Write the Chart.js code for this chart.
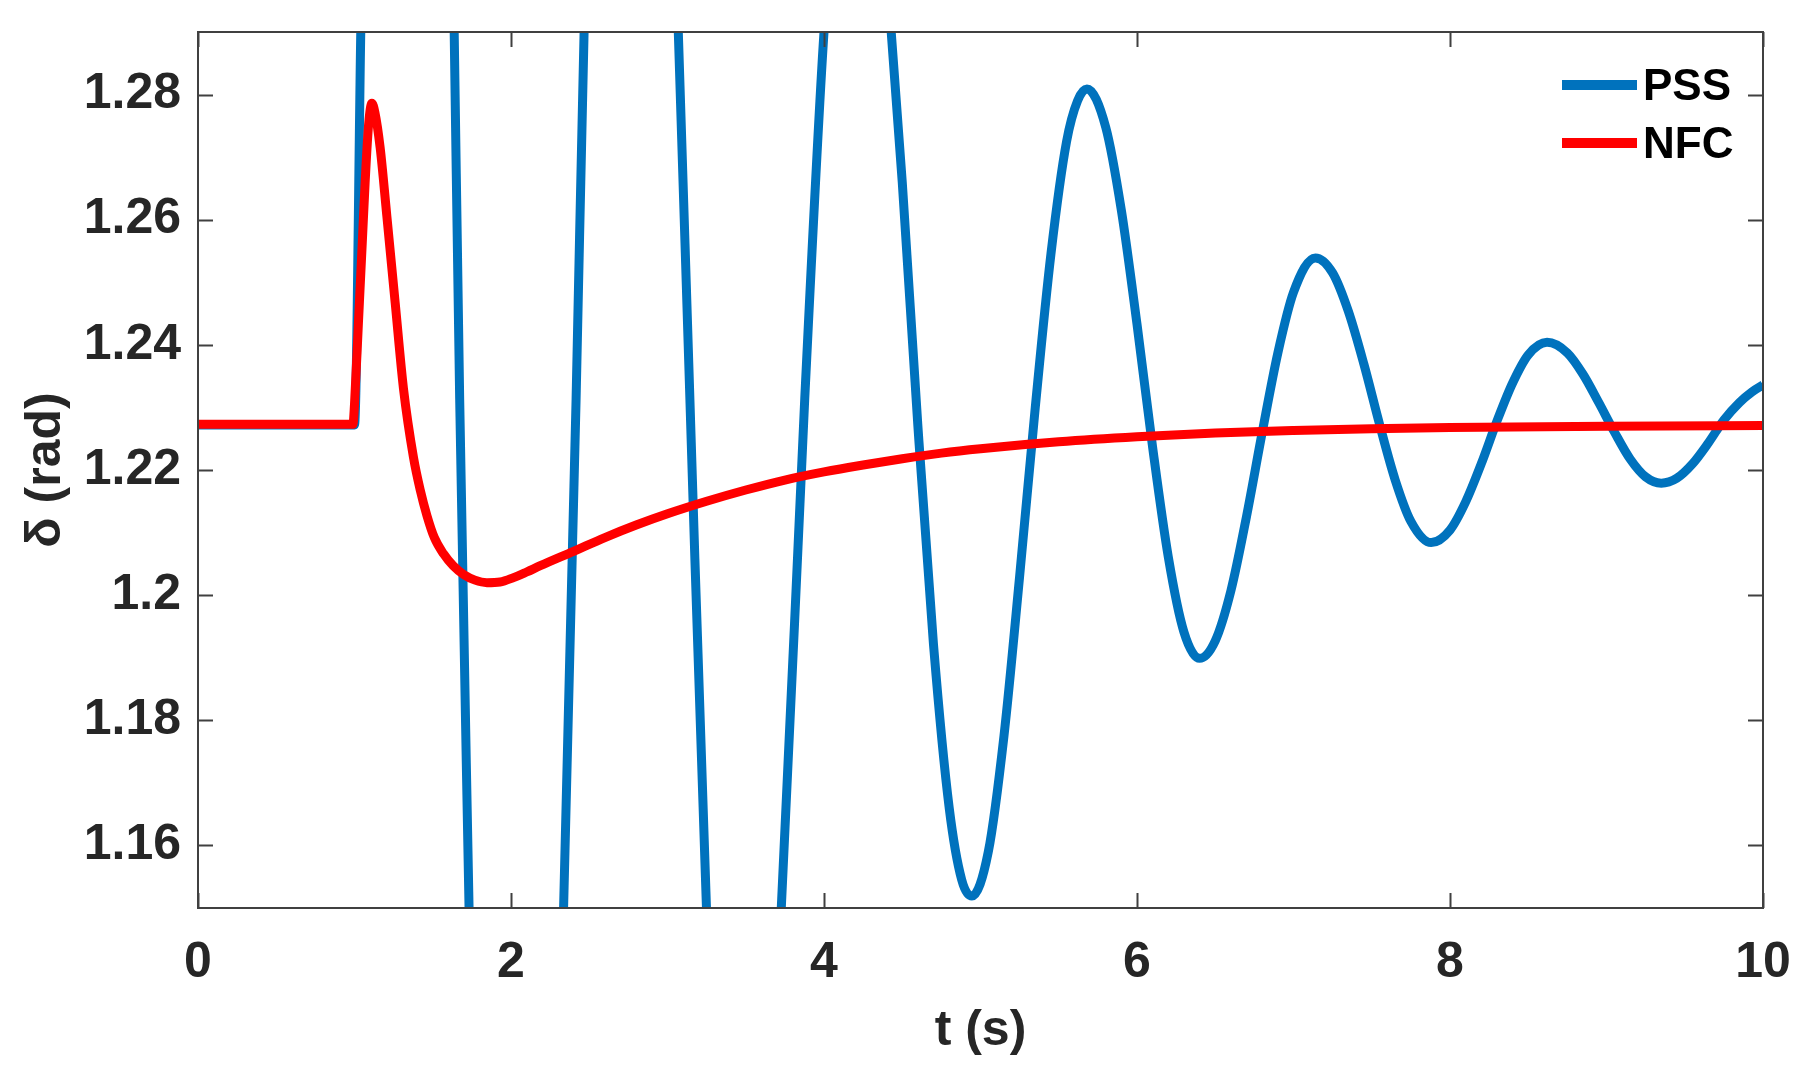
<!DOCTYPE html>
<html>
<head>
<meta charset="utf-8">
<script src="https://cdn.jsdelivr.net/npm/chart.js@4/dist/chart.umd.min.js"></script>
<style>
  body { margin: 0; background: #fff; }
</style>
</head>
<body>
<canvas id="myChart" width="1803" height="1074"></canvas>
<script>
// time axis (s) and rotor angle (rad)
const pssTime = [0, 1.0, 1.04, 1.1, 1.2, 1.34, 1.5, 1.6, 1.637, 1.672, 1.732, 1.8, 1.9, 2.03,
  2.15, 2.25, 2.336, 2.416, 2.467, 2.55, 2.65, 2.77, 2.9, 3.0, 3.069, 3.143, 3.249, 3.35, 3.49,
  3.6, 3.727, 3.877, 4.0, 4.1, 4.21, 4.3, 4.4, 4.5, 4.6, 4.7, 4.8, 4.88, 4.945,
  5.05, 5.15, 5.25, 5.35, 5.45, 5.55, 5.62, 5.68, 5.8, 5.9, 6.0, 6.1, 6.2, 6.3, 6.4,
  6.5, 6.6, 6.7, 6.8, 6.9, 7.0, 7.14, 7.25, 7.35, 7.45, 7.55, 7.65, 7.75, 7.88,
  8.0, 8.1, 8.2, 8.3, 8.4, 8.5, 8.62, 8.75, 8.85, 8.95, 9.05, 9.15, 9.25, 9.35,
  9.45, 9.55, 9.65, 9.75, 9.85, 9.93, 10.0];
const pssValue = [1.2272, 1.2272, 1.29, 1.38, 1.48, 1.52, 1.45, 1.35, 1.29, 1.2314, 1.15, 1.06, 0.97, 0.94,
  1.00, 1.08, 1.15, 1.2314, 1.29, 1.36, 1.42, 1.44, 1.40, 1.34, 1.29, 1.2314, 1.15, 1.10, 1.08,
  1.10, 1.15, 1.2314, 1.29, 1.32, 1.335, 1.328, 1.300, 1.266, 1.227, 1.192, 1.166, 1.1545, 1.1519,
  1.1590, 1.1775, 1.2030, 1.2300, 1.2545, 1.2725, 1.2790, 1.2809, 1.2748, 1.2615, 1.2433, 1.2236, 1.2061, 1.1941, 1.1899,
  1.1927, 1.2007, 1.2126, 1.2260, 1.2387, 1.2484, 1.2539, 1.2515, 1.2454, 1.2369, 1.2273, 1.2184, 1.2118, 1.2084,
  1.2104, 1.2149, 1.2210, 1.2278, 1.2339, 1.2384, 1.2404, 1.2387, 1.2353, 1.2308, 1.2261, 1.2218, 1.2189, 1.2179,
  1.2187, 1.2210, 1.2243, 1.2280, 1.2308, 1.2325, 1.2336];

const nfcTime = [0, 0.99, 1.0, 1.026, 1.05, 1.068, 1.09, 1.111, 1.13, 1.164,
  1.207, 1.26, 1.313, 1.377, 1.42, 1.463, 1.51, 1.569, 1.63, 1.697,
  1.77, 1.846, 1.93, 2.016, 2.1, 2.187, 2.4, 2.6, 2.8, 3.0,
  3.25, 3.5, 3.75, 4.0, 4.25, 4.5, 4.75, 5.0, 5.5, 6.0,
  6.5, 7.0, 7.5, 8.0, 9.0, 10.0];
const nfcValue = [1.2273, 1.2273, 1.2305, 1.2440, 1.2565, 1.2660, 1.2752, 1.2786, 1.2772, 1.2715,
  1.2605, 1.2467, 1.2330, 1.2220, 1.2168, 1.2127, 1.2092, 1.2066, 1.2047, 1.2033,
  1.2024, 1.2020, 1.2021, 1.2028, 1.2037, 1.2047, 1.2070, 1.2092, 1.2112, 1.2130,
  1.2150, 1.2168, 1.2184, 1.2197, 1.2208, 1.2218, 1.2227, 1.2234, 1.2245, 1.2253,
  1.2259, 1.2263, 1.2266, 1.2268, 1.2270, 1.2271];

const xTicks = [0, 2, 4, 6, 8, 10];
const yTicks = [1.16, 1.18, 1.2, 1.22, 1.24, 1.26, 1.28];

const fontFamily = "'Liberation Sans', Arial, Helvetica, sans-serif";
const axisColor = "#404040";

function toPoints(xs, ys) {
  return xs.map((t, i) => ({ x: t, y: ys[i] }));
}

// box, inward ticks and legend drawn MATLAB style
const frame = {
  id: "frame",
  afterDatasetsDraw(chart) {
    const { ctx, chartArea: a, scales } = chart;
    const len = 15;
    ctx.save();
    ctx.strokeStyle = axisColor;
    ctx.lineWidth = 2;
    ctx.beginPath();
    xTicks.forEach((v) => {
      const px = Math.round(scales.x.getPixelForValue(v)) + 0.5;
      ctx.moveTo(px, a.bottom); ctx.lineTo(px, a.bottom - len);
      ctx.moveTo(px, a.top); ctx.lineTo(px, a.top + len);
    });
    yTicks.forEach((v) => {
      const py = Math.round(scales.y.getPixelForValue(v)) + 0.5;
      ctx.moveTo(a.left, py); ctx.lineTo(a.left + len, py);
      ctx.moveTo(a.right, py); ctx.lineTo(a.right - len, py);
    });
    ctx.stroke();
    ctx.strokeRect(a.left, a.top, a.right - a.left, a.bottom - a.top);

    // legend
    ctx.font = "bold 44px " + fontFamily;
    ctx.textBaseline = "middle";
    ctx.textAlign = "left";
    chart.data.datasets.forEach((ds, i) => {
      const ly = a.top + 53 + i * 58;
      ctx.strokeStyle = ds.borderColor;
      ctx.lineWidth = 10;
      ctx.beginPath();
      ctx.moveTo(a.right - 201, ly);
      ctx.lineTo(a.right - 126, ly);
      ctx.stroke();
      ctx.fillStyle = "#000";
      ctx.fillText(ds.label, a.right - 120, ly + 3);
    });
    ctx.restore();
  }
};

const ctx = document.getElementById("myChart").getContext("2d");

const myChart = new Chart(ctx, {
  type: "line",
  data: {
    datasets: [
      {
        label: "PSS",
        data: toPoints(pssTime, pssValue),
        borderColor: "#0072BD",
        borderWidth: 9,
        pointRadius: 0,
        cubicInterpolationMode: "monotone",
        clip: 0,
        order: 1
      },
      {
        label: "NFC",
        data: toPoints(nfcTime, nfcValue),
        borderColor: "#FF0000",
        borderWidth: 9,
        pointRadius: 0,
        cubicInterpolationMode: "monotone",
        clip: 0,
        order: 0
      }
    ]
  },
  options: {
    responsive: false,
    animation: false,
    layout: { padding: { top: 32, right: 40, left: 0, bottom: 0 } },
    plugins: {
      legend: { display: false },
      tooltip: { enabled: false }
    },
    scales: {
      x: {
        type: "linear",
        min: 0,
        max: 10,
        afterBuildTicks: (s) => { s.ticks = xTicks.map((v) => ({ value: v })); },
        afterFit: (s) => { s.height = 166; s.paddingLeft = 0; s.paddingRight = 0; },
        grid: { display: false, drawTicks: false },
        border: { display: false },
        ticks: {
          font: { family: fontFamily, size: 50, weight: "bold" },
          color: "#262626",
          padding: 25,
          maxRotation: 0,
          autoSkip: false,
          callback: (v) => String(v)
        },
        title: {
          display: true,
          text: "t (s)",
          font: { family: fontFamily, size: 50, weight: "bold" },
          color: "#262626",
          padding: { top: 0, bottom: 13 }
        }
      },
      y: {
        min: 1.15,
        max: 1.29,
        afterBuildTicks: (s) => { s.ticks = yTicks.map((v) => ({ value: v })); },
        afterFit: (s) => { s.width = 198; s.paddingTop = 0; s.paddingBottom = 0; },
        grid: { display: false, drawTicks: false },
        border: { display: false },
        ticks: {
          font: { family: fontFamily, size: 50, weight: "bold" },
          color: "#262626",
          padding: 17,
          autoSkip: false,
          callback: (v) => String(+Number(v).toFixed(2))
        },
        title: {
          display: true,
          text: "δ (rad)",
          font: { family: fontFamily, size: 50, weight: "bold" },
          color: "#262626",
          padding: { top: 16, bottom: 0 }
        }
      }
    }
  },
  plugins: [frame]
});
</script>
</body>
</html>
